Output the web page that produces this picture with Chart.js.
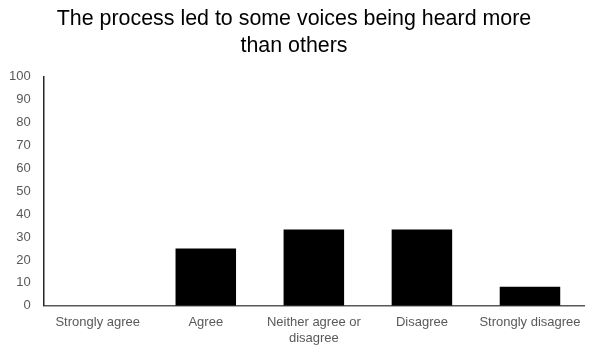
<!DOCTYPE html>
<html>
<head>
<meta charset="utf-8">
<script src="https://cdn.jsdelivr.net/npm/chart.js@4/dist/chart.umd.min.js"></script>
<style>
  html, body { margin: 0; padding: 0; background: #fff; }
  #barChart { display: block; }
</style>
</head>
<body>
<canvas id="barChart" width="593" height="347"></canvas>
<script>
var categories = ["Strongly agree", "Agree", ["Neither agree or", "disagree"], "Disagree", "Strongly disagree"];
var percentages = [0, 25, 33.3, 33.3, 8.3];
var yTicks = [0, 10, 20, 30, 40, 50, 60, 70, 80, 90, 100];

var axisGrey = "#595959";
var fontName = "'Liberation Sans', Arial, sans-serif";

var ctx = document.getElementById('barChart');
var barChart = new Chart(ctx, {
    type: 'bar',
    data: {
        labels: categories,
        datasets: [
            {
                label: "Responses",
                data: percentages,
                backgroundColor: "#000000",
                borderWidth: 0,
                categoryPercentage: 0.56,
                barPercentage: 1.0
            }
        ]
    },
    options: {
        responsive: false,
        animation: false,
        layout: {
            padding: { left: 4, right: 9, top: 3, bottom: 0 }
        },
        plugins: {
            legend: {
                display: false
            },
            tooltip: { enabled: false },
            title: {
                display: true,
                text: ["The process led to some voices being heard more", "than others"],
                color: "#000000",
                font: { family: fontName, size: 21.4, weight: 'normal', lineHeight: 1.28 },
                padding: { top: 2, bottom: 17 }
            }
        },
        scales: {
            x: {
                grid: { display: false },
                border: { display: true, color: axisGrey, width: 1.5 },
                ticks: {
                    color: axisGrey,
                    font: { family: fontName, size: 13 },
                    maxRotation: 0,
                    autoSkip: false,
                    padding: 1
                }
            },
            y: {
                min: 0,
                max: 100,
                afterBuildTicks: function (axis) {
                    axis.ticks = yTicks.map(function (v) { return { value: v }; });
                },
                grid: { display: false },
                border: { display: true, color: "#262626", width: 1.5 },
                ticks: {
                    color: axisGrey,
                    font: { family: fontName, size: 13 },
                    padding: 5
                }
            }
        }
    }
});
</script>
</body>
</html>
